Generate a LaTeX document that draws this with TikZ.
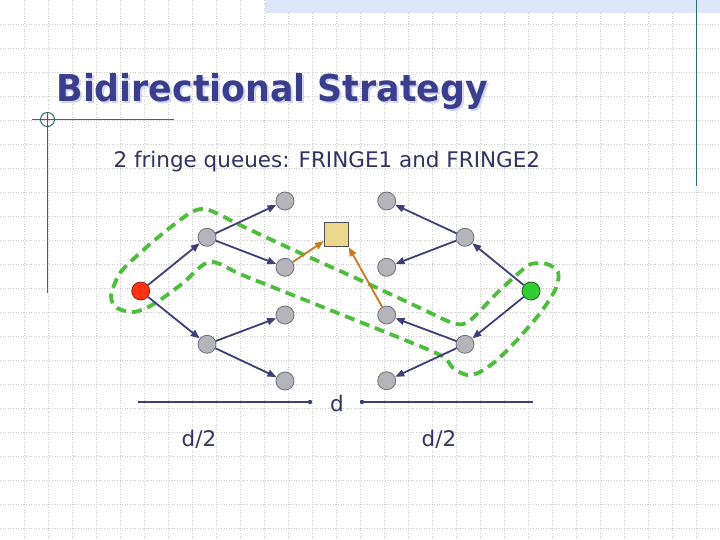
\documentclass[tikz,border=0pt]{standalone}
\usepackage{fontspec}
\setmainfont{DejaVu Sans}
\newfontfamily\titlefont[FakeStretch=0.94]{DejaVu Sans}
\usepackage{tikz}
\usetikzlibrary{arrows.meta}
\usetikzlibrary{positioning}
\definecolor{mnavy}{RGB}{62, 62, 122}
\definecolor{mtitle}{RGB}{58, 62, 140}
\definecolor{mshadow}{RGB}{210, 213, 240}
\definecolor{mtext}{RGB}{50, 50, 100}
\definecolor{mgray}{RGB}{180, 180, 186}
\definecolor{mgrayline}{RGB}{110, 110, 125}
\definecolor{mred}{RGB}{255, 50, 17}
\definecolor{mgreen}{RGB}{51, 204, 51}
\definecolor{mloop}{RGB}{77, 190, 60}
\definecolor{mbox}{RGB}{235, 214, 140}
\definecolor{morange}{RGB}{200, 122, 30}
\definecolor{mteal}{RGB}{46, 110, 106}
\definecolor{mband}{RGB}{220, 230, 248}
\tikzset{gridline/.style = {dotted, line width = 0.6pt, black!20}}
\tikzset{decoline/.style = {line width = 1pt, mteal}}
\tikzset{graynode/.style = {circle, fill = mgray, draw = mgrayline, line width = 0.8pt,
                            inner sep = 0, minimum size = 18pt}}
\tikzset{rednode/.style = {graynode, fill = mred, draw = mred!60!black}}
\tikzset{greennode/.style = {graynode, fill = mgreen, draw = mgreen!50!black}}
\tikzset{meetbox/.style = {rectangle, fill = mbox, draw = black!70, line width = 0.8pt,
                           inner sep = 0, minimum size = 24pt}}
\tikzset{fwd/.style = {-{Triangle[length = 9pt, width = 7pt]}, line width = 1.8pt, mnavy}}
\tikzset{meetarrow/.style = {fwd, morange}}
\tikzset{fringeloop/.style = {mloop, line width = 3.8pt, dash pattern = on 10pt off 6pt}}
\tikzset{distline/.style = {line width = 1.8pt, mnavy}}
\tikzset{label/.style = {text = mtext, font = \fontsize{21.5}{24}\selectfont}}

\begin{document}
\begin{tikzpicture}[x = 1pt, y = -1pt]
    \useasboundingbox (0, 0) rectangle (720, 540);
    \fill [white] (0, 0) rectangle (720, 540);
    % slide background
    \foreach \gx in {24, 48, ..., 696}
      \draw [gridline] (\gx, 0) -- (\gx, 540);
    \foreach \gy in {24, 48, ..., 528}
      \draw [gridline] (0, \gy) -- (720, \gy);
    \fill [mband] (265, 0) rectangle (720, 13);
    \draw [decoline] (696, 0) -- (696, 186);
    \draw [decoline] (47.5, 112) -- (47.5, 293);
    \draw [decoline] (32, 119.5) -- (174, 119.5);
    \draw [decoline] (47.5, 119.5) circle [radius = 7pt];

    \node [anchor = base west, text = mshadow, font = \titlefont\bfseries\fontsize{37}{40}\selectfont]
      (titleshadow) at (55, 104) {Bidirectional Strategy};
    \node [anchor = base west, text = mtitle, font = \titlefont\bfseries\fontsize{37}{40}\selectfont]
      (title) at (53, 101.5) {Bidirectional Strategy};
    \node [label, anchor = base west] (queues) at (110, 167.5) {2 fringe queues: FRINGE1 and FRINGE2};

    % the two fringes
    \draw [fringeloop] plot [smooth cycle, tension = 0.5] coordinates {
      (111, 296) (120, 273) (140, 253) (167, 230) (190, 213) (202, 209) (214, 212)
      (240, 225) (300, 253) (360, 280) (420, 308) (450, 322) (463, 324) (474, 317)
      (497, 293) (520, 272) (531, 264) (547, 264) (558, 272) (556, 288) (541, 312)
      (517, 340) (497, 360) (480, 372) (467, 375) (453, 368) (442, 356) (400, 338)
      (340, 314) (280, 290) (240, 274) (220, 264) (209, 262) (199, 268) (183, 283)
      (160, 300) (146, 308) (133, 312) (117, 308)};

    \node [rednode] (start) at (140.7, 291) {};
    \node [greennode] (goal) at (531, 291) {};
    \node [graynode] (a1) at (207, 237.3) {};
    \node [graynode] (a2) at (207, 344.3) {};
    \node [graynode] (b1) at (285, 201) {};
    \node [graynode] (b2) at (285, 267.3) {};
    \node [graynode] (b3) at (285, 315) {};
    \node [graynode] (b4) at (285, 381) {};
    \node [graynode] (c1) at (386.7, 201) {};
    \node [graynode] (c2) at (386.7, 267.3) {};
    \node [graynode] (c3) at (386.7, 315) {};
    \node [graynode] (c4) at (386.7, 380.7) {};
    \node [graynode] (d1) at (465, 237.3) {};
    \node [graynode] (d2) at (465, 344.3) {};
    \node [meetbox] (meet) at (336.3, 234.7) {};

    \draw [fwd] (start) -- (a1);
    \draw [fwd] (start) -- (a2);
    \draw [fwd] (a1) -- (b1);
    \draw [fwd] (a1) -- (b2);
    \draw [fwd] (a2) -- (b3);
    \draw [fwd] (a2) -- (b4);
    \draw [fwd] (goal) -- (d1);
    \draw [fwd] (goal) -- (d2);
    \draw [fwd] (d1) -- (c1);
    \draw [fwd] (d1) -- (c2);
    \draw [fwd] (d2) -- (c3);
    \draw [fwd] (d2) -- (c4);
    \draw [meetarrow] (b2) -- ([yshift = 6pt] meet.south west);
    \draw [meetarrow] (c3) -- (meet.south east);

    % distances
    \coordinate (leftend) at (138, 402);
    \coordinate (leftdot) at (310, 402);
    \coordinate (rightdot) at (362, 402);
    \coordinate (rightend) at (533, 402);
    \draw [distline] (leftend) -- (leftdot);
    \draw [distline] (rightdot) -- (rightend);
    \fill [mnavy] (leftdot) circle [radius = 2.2pt];
    \fill [mnavy] (rightdot) circle [radius = 2.2pt];
    \node [label] (dist) at (337, 403) {d};
    \node [label] (halfleft) at (199, 439) {d/2};
    \node [label] (halfright) at (439, 439) {d/2};
\end{tikzpicture}
\end{document}
